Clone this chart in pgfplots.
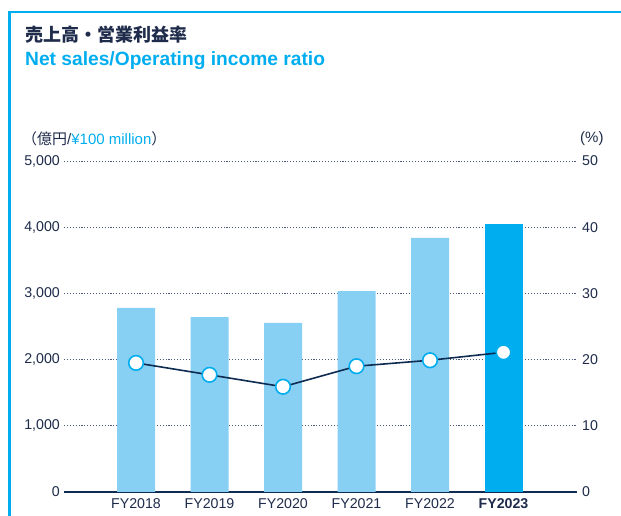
\documentclass[border=0pt]{standalone}
\usepackage{pgfplots}
\pgfplotsset{compat=1.18}
\usepackage{fontspec}
\setmainfont{Liberation Sans}
\newfontfamily\cjk{Noto Sans CJK JP}
\definecolor{navy}{HTML}{1E2B4A}
\definecolor{cy}{HTML}{00AEEF}
\definecolor{lb}{HTML}{88CFF4}
\definecolor{gridc}{HTML}{4A5A78}
\definecolor{linec}{HTML}{0E2B52}
\begin{document}
\begin{tikzpicture}[x=1pt,y=1pt]
\useasboundingbox (0pt,0pt) rectangle (621pt,516pt);
\draw[cy, line width=2.6pt] (9.5pt,0pt) -- (9.5pt,504pt) -- (621pt,504pt);
\node[anchor=west, inner sep=0, text=navy, font=\cjk\bfseries\fontsize{18}{20}\selectfont] at (25pt,481pt) {売上高・営業利益率};
\node[anchor=west, inner sep=0, text=cy, font=\bfseries\fontsize{19.2}{21}\selectfont] at (25pt,455pt) {Net sales/Operating income ratio};
\node[anchor=west, inner sep=0, text=navy, font=\fontsize{15}{17}\selectfont] at (22pt,377pt) {{\cjk （億円}/\textcolor{cy}{¥100 million}{\cjk ）}};
\node[anchor=west, inner sep=0, text=navy, font=\fontsize{15}{17}\selectfont] at (580pt,377pt) {(\%)};
\begin{axis}[at={(64pt,24pt)}, anchor=south west, scale only axis,
  width=513pt, height=331pt,
  xmin=-0.98, xmax=6.0, ymin=0, ymax=5000,
  axis x line*=bottom, axis y line*=left,
  x axis line style={linec, line width=1.3pt, -},
  y axis line style={draw=none},
  major tick length=0pt,
  xtick={0,...,5},
  xticklabels={FY2018,FY2019,FY2020,FY2021,FY2022,\textbf{FY2023}},
  ytick={0,1000,...,5000},
  scaled y ticks=false,
  /pgf/number format/.cd, 1000 sep={,}, assume math mode=true, /pgfplots/.cd,
  tick label style={font=\fontsize{14.2}{16}\selectfont, text=navy},
  yticklabel style={inner sep=0pt, anchor=east, xshift=-4pt},
  xticklabel style={inner sep=0pt, anchor=north, yshift=-6pt},
  ymajorgrids,
  major grid style={gridc, line width=1pt, dash pattern=on 1.1pt off 1.8pt},
]
\addplot[ybar, bar width=38pt, bar shift=0pt, fill=lb, draw=none] coordinates {(0,2780) (1,2643) (2,2553) (3,3036) (4,3837)};
\addplot[ybar, bar width=38pt, bar shift=0pt, fill=cy, draw=none] coordinates {(5,4048)};
\end{axis}
\begin{axis}[at={(64pt,24pt)}, anchor=south west, scale only axis,
  width=513pt, height=331pt,
  xmin=-0.98, xmax=6.0, ymin=0, ymax=50,
  axis x line=none, axis y line*=right,
  y axis line style={draw=none},
  major tick length=0pt,
  ytick={0,10,...,50},
  /pgf/number format/assume math mode=true,
  tick label style={font=\fontsize{14.2}{16}\selectfont, text=navy},
  yticklabel style={inner sep=0pt, anchor=west, xshift=5pt},
]
\addplot[linec, line width=1.6pt, mark=*, mark size=7.3pt, mark options={fill=white, draw=cy, line width=1.6pt}] coordinates {(0,19.5) (1,17.7) (2,15.9) (3,19.0) (4,19.9) (5,21.1)};
\end{axis}
\end{tikzpicture}
\end{document}
